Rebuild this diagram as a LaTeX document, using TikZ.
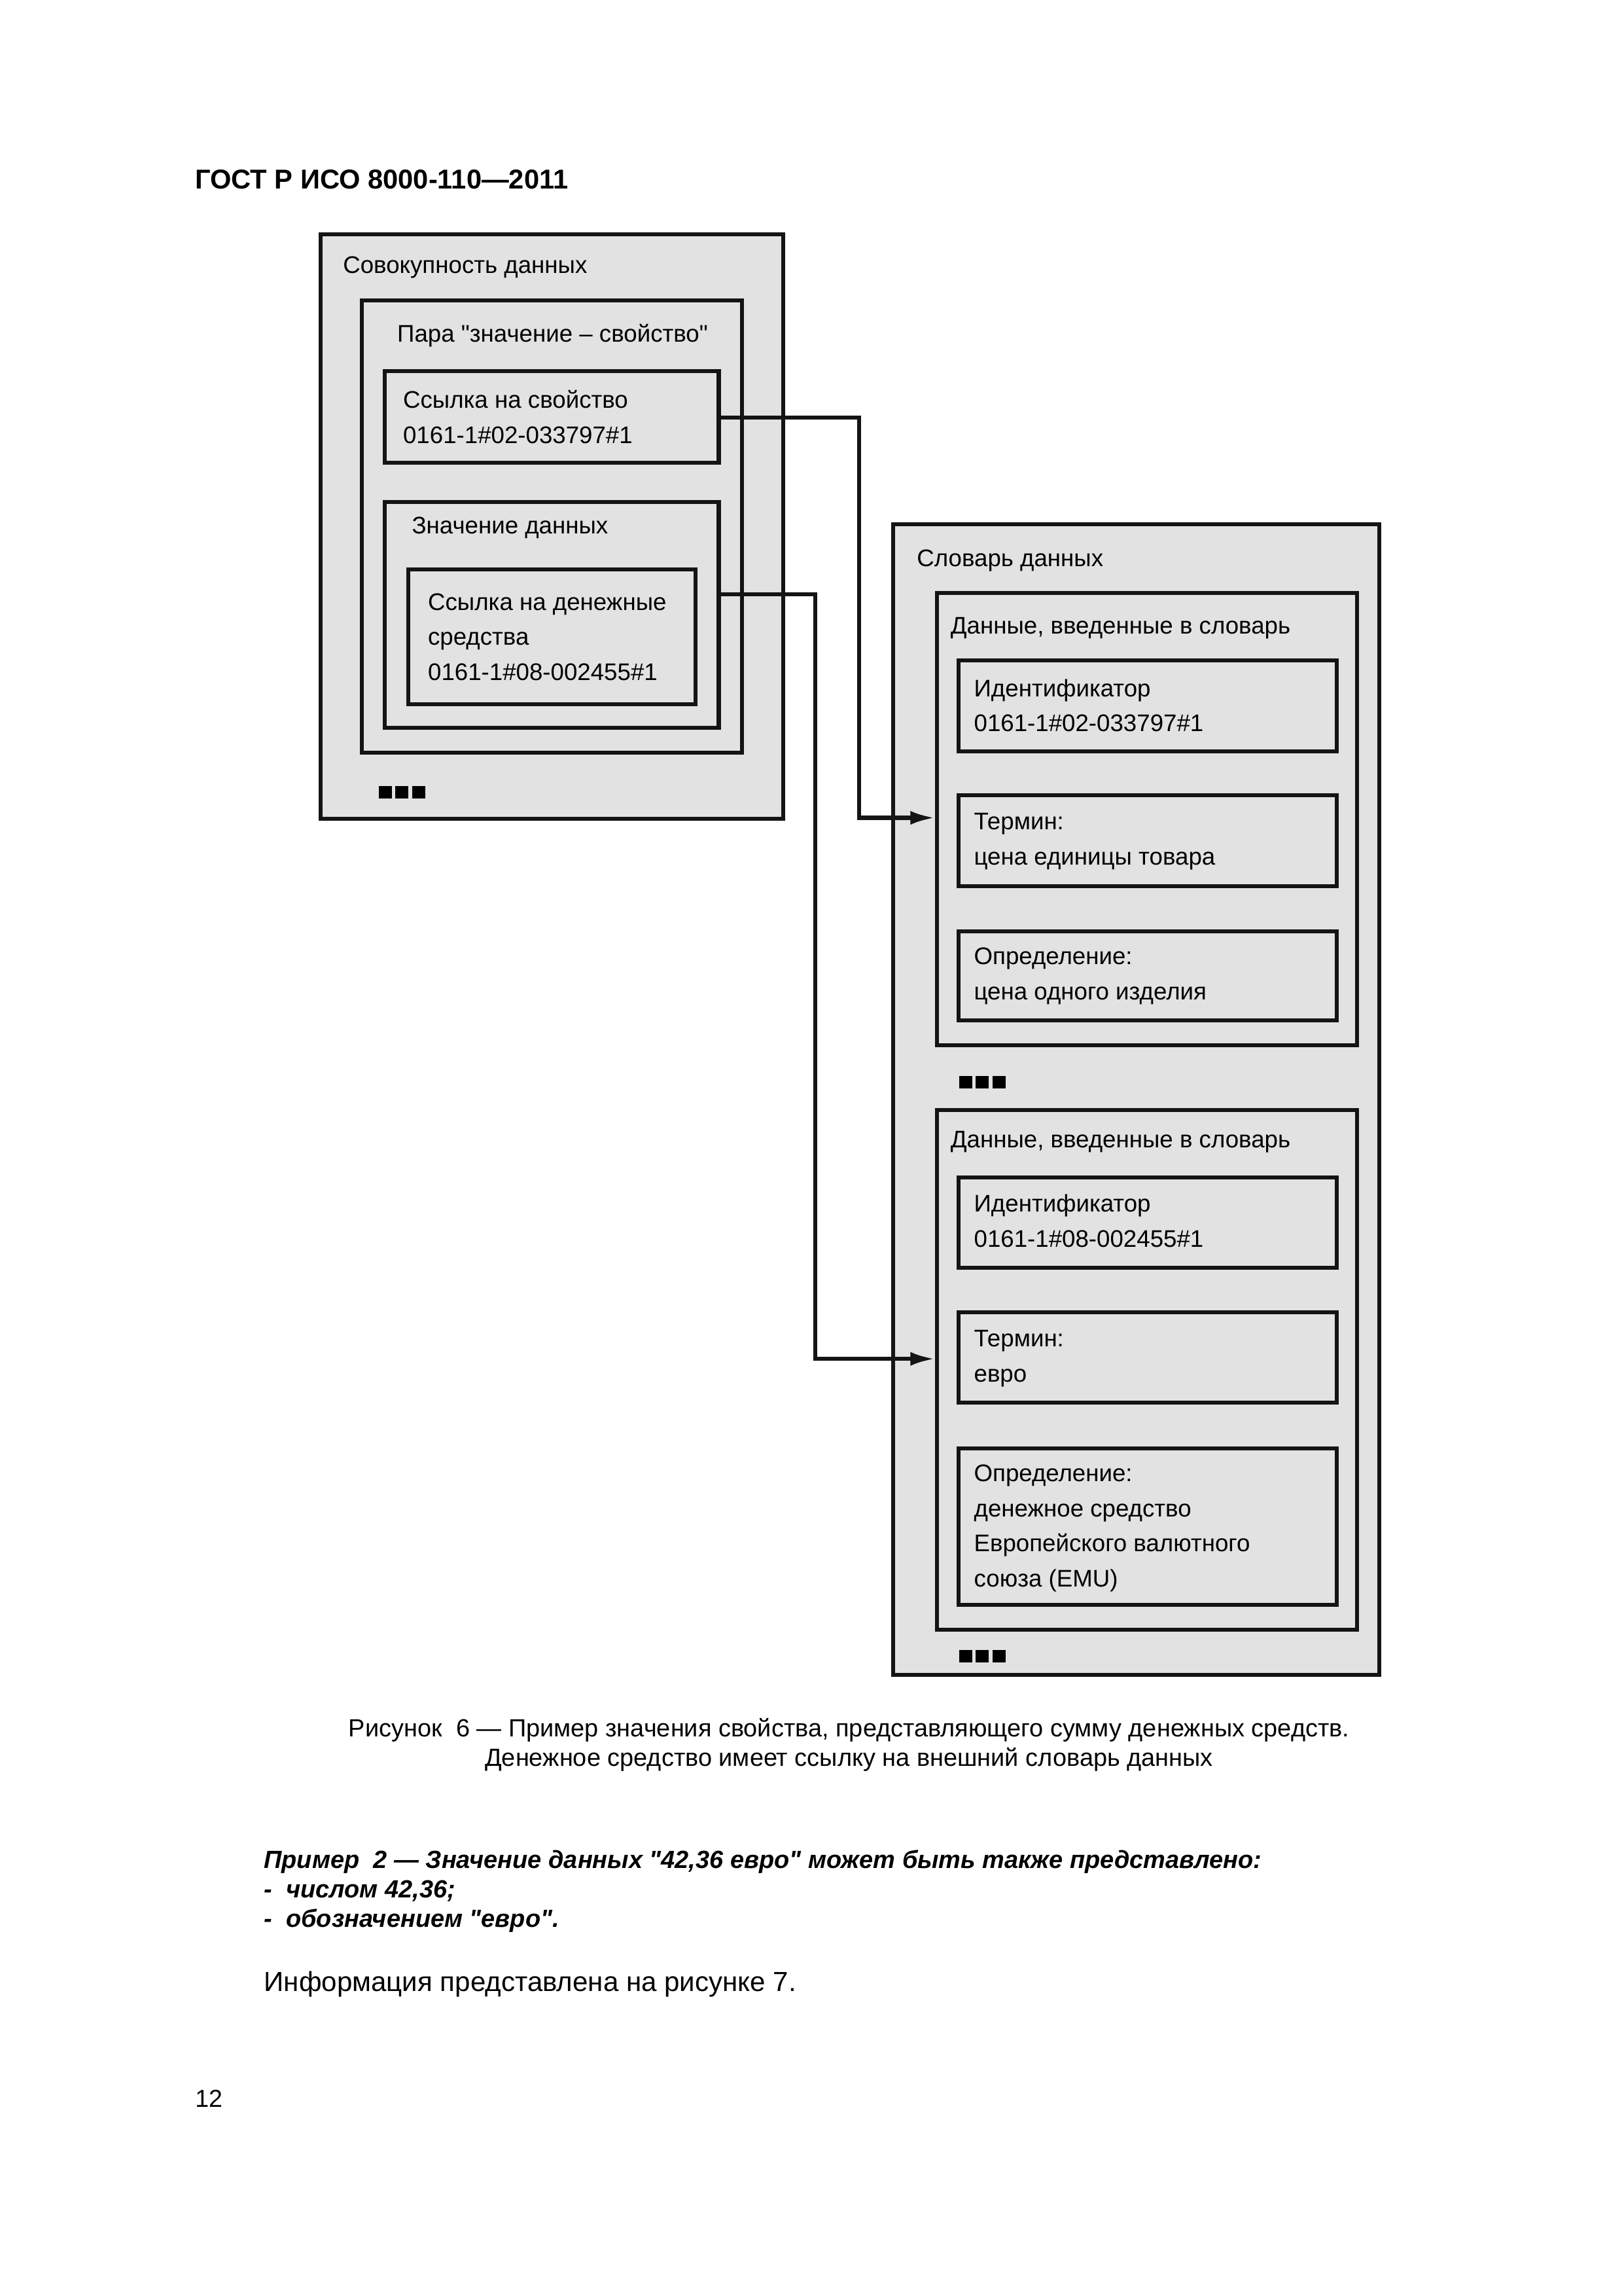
\documentclass[tikz,border=0pt]{standalone}
\usepackage{fontspec}
\setmainfont{Liberation Sans}[Ligatures=TeXOff]
\usetikzlibrary{fit,arrows.meta}
\definecolor{boxgray}{RGB}{226,226,226}
\definecolor{ink}{RGB}{20,20,20}
\tikzset{
  box/.style={draw=ink, line width=1.45pt, fill=boxgray, inner sep=0pt, rectangle},
  btext/.style={anchor=base west, inner sep=0pt, font=\fontsize{8.8}{12.85}\selectfont},
  conn/.style={draw=ink, line width=1.45pt, -{Latex[length=9pt,width=5.1pt]}},
  dots/.style={inner sep=0pt, anchor=center},
  pagetext/.style={inner sep=0pt, anchor=base west}
}
\newcommand{\tridots}{\rule{4.8pt}{4.4pt}\hspace{1.3pt}\rule{4.8pt}{4.4pt}\hspace{1.3pt}\rule{4.8pt}{4.4pt}}
\newcommand{\mlines}[1]{\begin{tabular}[t]{@{}l@{}}#1\end{tabular}}
\begin{document}
\begin{tikzpicture}[x=0.5368pt, y=-0.5368pt]
\useasboundingbox[fill=white] (0,0) rectangle (1109,1568);

% header
\node[pagetext, font=\fontsize{10}{12}\selectfont\bfseries] (hdr) at (133,129) {ГОСТ Р ИСО 8000-110—2011};

% left block
\node[box, fit={(219,160)(535,559)}] (A) {};
\node[btext] (Atxt) at (234,186.7) {Совокупность данных};
\node[box, fit={(247,205)(507,514)}] (B) {};
\node[btext] (Btxt) at (271,233.7) {Пара "значение – свойство"};
\node[box, fit={(263,253.5)(491,316)}] (C) {};
\node[btext] (Ctxt) at (275,278.7) {\mlines{Ссылка на свойство\\0161-1\#02-033797\#1}};
\node[box, fit={(263,343)(491,497)}] (D) {};
\node[btext] (Dtxt) at (281,364.7) {Значение данных};
\node[box, fit={(279,389)(475,481)}] (E) {};
\node[btext] (Etxt) at (292,416.7) {\mlines{Ссылка на денежные\\средства\\0161-1\#08-002455\#1}};
\node[dots] (dotsA) at (274.5,541) {\tridots};

% right block
\node[box, fit={(610,358)(942,1144)}] (F) {};
\node[btext] (Ftxt) at (626,386.7) {Словарь данных};

\node[box, fit={(640,405)(927,714)}] (G1) {};
\node[btext] (G1txt) at (649,432.7) {Данные, введенные в словарь};
\node[box, fit={(655,451)(913,513)}] (G1a) {};
\node[btext] (G1atxt) at (665,475.7) {\mlines{Идентификатор\\0161-1\#02-033797\#1}};
\node[box, fit={(655,543)(913,605)}] (G1b) {};
\node[btext] (G1btxt) at (665,566.7) {\mlines{Термин:\\цена единицы товара}};
\node[box, fit={(655,636)(913,697)}] (G1c) {};
\node[btext] (G1ctxt) at (665,658.7) {\mlines{Определение:\\цена одного изделия}};
\node[dots] (dotsF1) at (671,739) {\tridots};

\node[box, fit={(640,758)(927,1113)}] (G2) {};
\node[btext] (G2txt) at (649,783.7) {Данные, введенные в словарь};
\node[box, fit={(655,804)(913,866)}] (G2a) {};
\node[btext] (G2atxt) at (665,827.7) {\mlines{Идентификатор\\0161-1\#08-002455\#1}};
\node[box, fit={(655,896)(913,958)}] (G2b) {};
\node[btext] (G2btxt) at (665,919.7) {\mlines{Термин:\\евро}};
\node[box, fit={(655,989)(913,1096)}] (G2c) {};
\node[btext] (G2ctxt) at (665,1011.7) {\mlines{Определение:\\денежное средство\\Европейского валютного\\союза (EMU)}};
\node[dots] (dotsF2) at (671,1131) {\tridots};

% connectors
\coordinate (s2) at (D.east |- 0,406);
\draw[conn] (C.east |- 0,285) -| (586.7,558.5) -- (G1.west |- 0,558.5);
\draw[conn] (s2) -| (557,928) -- (G2.west |- 0,928);

% caption
\node[inner sep=0pt, anchor=base, font=\fontsize{9.1}{11}\selectfont] (cap1) at (580,1186) {Рисунок~ 6 — Пример значения свойства, представляющего сумму денежных средств.};
\node[inner sep=0pt, anchor=base, font=\fontsize{9.1}{11}\selectfont] (cap2) at (580,1206) {Денежное средство имеет ссылку на внешний словарь данных};

% example
\node[pagetext, font=\fontsize{9.1}{11}\selectfont\bfseries\itshape] (ex1) at (180,1276) {Пример~ 2 — Значение данных "42,36 евро" может быть также представлено:};
\node[pagetext, font=\fontsize{9.1}{11}\selectfont\bfseries\itshape] (ex2) at (180,1296) {-~ числом 42,36;};
\node[pagetext, font=\fontsize{9.1}{11}\selectfont\bfseries\itshape] (ex3) at (180,1316) {-~ обозначением "евро".};
\node[pagetext, font=\fontsize{10.1}{12}\selectfont] (info) at (180,1360) {Информация представлена на рисунке 7.};
\node[pagetext, font=\fontsize{9}{11}\selectfont] (pnum) at (133,1439) {12};
\end{tikzpicture}
\end{document}
